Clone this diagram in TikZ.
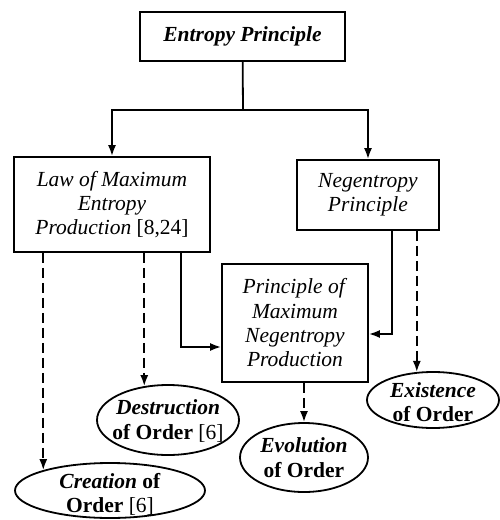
\documentclass[tikz,border=0pt]{standalone}
\usepackage{fontspec}
\setmainfont{Liberation Serif}
\usepackage{tikz}
\usetikzlibrary{shapes.geometric, arrows.meta}

\begin{document}
\begin{tikzpicture}[x=1pt, y=-1pt,
        every node/.style={font=\fontsize{21.5}{24.3}\selectfont},
        box/.style={rectangle, draw, line width=1.8pt, align=center, inner sep=0pt},
        oval/.style={ellipse, draw, line width=1.8pt, inner sep=0pt},
        caption/.style={align=center, inner sep=0pt},
        line/.style={draw, line width=1.8pt, -{Latex[length=11pt, width=8pt]}},
        dline/.style={line, dash pattern=on 10pt off 5pt}
    ]
        \useasboundingbox (0,0) rectangle (500,520);
        % Boxes
        \node[box, minimum width=205pt, minimum height=49pt] (entropy) at (242.5,36.5) {\textbf{\textit{Entropy Principle}}};
        \node[box, minimum width=196pt, minimum height=95pt] (lmep) at (112,204.5) {\textit{Law of Maximum}\\\textit{Entropy}\\\textit{Production} [8,24]};
        \node[box, minimum width=142pt, minimum height=70pt] (negentropy) at (368,195) {\textit{Negentropy}\\\textit{Principle}};
        \node[box, minimum width=146pt, minimum height=118pt] (pmnp) at (295,323) {\textit{Principle of}\\\textit{Maximum}\\\textit{Negentropy}\\\textit{Production}};
        % Ellipses, with their text set on top
        \node[oval, minimum width=142pt, minimum height=70pt] (destruction) at (168,420) {};
        \node[oval, minimum width=128pt, minimum height=69pt] (evolution) at (304,457.5) {};
        \node[oval, minimum width=132pt, minimum height=56pt] (existence) at (433,400) {};
        \node[oval, minimum width=190pt, minimum height=55pt] (creation) at (110,490.5) {};
        \node[caption] (destruction-text) at ([yshift=-1pt]destruction) {\textbf{\textit{Destruction}}\\\textbf{of Order} [6]};
        \node[caption] (evolution-text) at (evolution) {\textbf{\textit{Evolution}}\\\textbf{of Order}};
        \node[caption] (existence-text) at ([yshift=-2pt]existence) {\textbf{\textit{Existence}}\\\textbf{of Order}};
        \node[caption] (creation-text) at ([yshift=-4pt]creation) {\textbf{\textit{Creation} of}\\\textbf{Order} [6]};
        % Connections
        \coordinate (split) at (243,110);
        \draw[line width=1.8pt] (entropy) -- (split);
        \path[line] (split) -| (lmep.north);
        \path[line] (split) -| (negentropy.north);
        \path[line] ([xshift=69pt]lmep.south) |- ([yshift=-24pt]pmnp.west);
        \path[line] ([xshift=24pt]negentropy.south) |- ([yshift=-11pt]pmnp.east);
        \path[dline] (creation.163 |- lmep.south) -- (creation.163);
        \path[dline] (destruction.125 |- lmep.south) -- (destruction.125);
        \path[dline] (existence.120 |- negentropy.south) -- (existence.120);
        \path[dline] (evolution.north |- pmnp.south) -- (evolution.north);
    \end{tikzpicture}
\end{document}
